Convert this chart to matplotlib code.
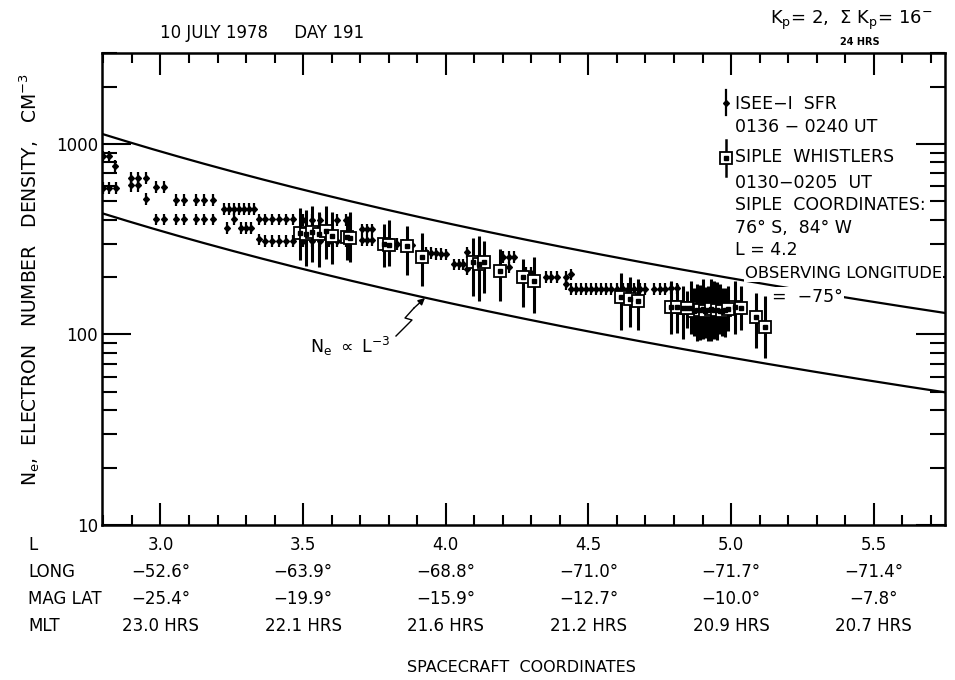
import matplotlib
matplotlib.use("Agg")
import matplotlib.pyplot as plt
import numpy as np
from matplotlib.ticker import FixedLocator, MultipleLocator, LogLocator, NullFormatter
from matplotlib.transforms import blended_transform_factory

plt.rcParams['font.family'] = ['DejaVu Sans']

# ---------------- data ----------------
# ISEE-1 SFR densities (L-shell, Ne in cm^-3)
isee_L = [2.800, 2.820, 2.840, 2.800, 2.820, 2.843,
          2.895, 2.920, 2.948, 2.895, 2.920, 2.950,
          2.985, 3.011,
          3.055, 3.082, 3.125, 3.154, 3.183,
          2.985, 3.011, 3.055, 3.082, 3.125, 3.154, 3.183,
          3.224, 3.241, 3.259, 3.276, 3.294, 3.311, 3.329,
          3.234, 3.259, 3.283, 3.300, 3.318,
          3.346, 3.346,
          3.365, 3.390, 3.415, 3.440, 3.465,
          3.365, 3.390, 3.415, 3.440, 3.465,
          3.500, 3.530, 3.560, 3.620, 3.650,
          3.500, 3.530, 3.560, 3.590, 3.620, 3.650,
          3.706, 3.723, 3.740, 3.706, 3.723, 3.740,
          3.790, 3.810, 3.830, 3.850, 3.880,
          3.930, 3.948, 3.965, 3.983, 4.000,
          4.030, 4.045, 4.060, 4.073, 4.073,
          4.200, 4.220, 4.240, 4.220,
          4.280, 4.300,
          4.350, 4.370, 4.390, 4.420, 4.420,
          4.440, 4.457, 4.475, 4.492, 4.510, 4.527, 4.545, 4.562, 4.580, 4.600,
          4.620, 4.640, 4.660, 4.680, 4.700, 4.730, 4.750, 4.770, 4.790, 4.810,
          4.440]
isee_N = [860, 860, 770, 590, 590, 590,
          665, 665, 665, 605, 605, 514,
          594, 594,
          509, 509, 509, 509, 509,
          403, 403, 403, 403, 403, 403, 403,
          455, 455, 455, 455, 455, 455, 455,
          362, 405, 362, 362, 362,
          403, 316,
          403, 403, 403, 403, 403,
          310, 310, 310, 310, 310,
          400, 400, 400, 400, 400,
          310, 310, 310, 310, 310, 310,
          357, 357, 357, 312, 312, 312,
          300, 300, 298, 296, 294,
          270, 268, 266, 265, 263,
          233, 233, 233, 270, 220,
          255, 255, 255, 225,
          210, 210,
          200, 200, 200, 185, 200,
          173, 173, 173, 173, 173, 173, 173, 173, 173, 173,
          173, 173, 173, 173, 173, 173, 173, 173, 175, 175,
          207]
ISEE_ERR_FRAC = 0.07

# Siple whistler densities: L, Ne, lower and upper error limits
wh_L = [3.490, 3.510, 3.530, 3.555, 3.580, 3.600, 3.655, 3.665,
        3.785, 3.800, 3.865, 3.915, 4.095, 4.115, 4.135, 4.190,
        4.270, 4.310, 4.615, 4.645, 4.675, 4.790, 4.830, 4.860,
        4.880, 4.900, 4.920, 4.940, 4.960, 4.980, 5.015, 5.035,
        5.087, 5.120,
        4.870, 4.890, 4.910, 4.930, 4.950, 4.970, 4.990, 4.810, 4.845]
wh_N = [340, 335, 345, 335, 350, 330, 325, 320,
        300, 295, 290, 255, 240, 235, 240, 215,
        200, 190, 157, 153, 149, 140, 138, 137,
        135, 136, 134, 135, 133, 135, 140, 137,
        124, 109,
        133, 135, 132, 136, 134, 132, 136, 140, 137]
wh_lo = [245, 230, 240, 225, 250, 235, 245, 240,
         225, 230, 205, 180, 160, 150, 165, 150,
         140, 130, 105, 110, 105, 100, 95, 100,
         92, 95, 92, 95, 100, 97, 100, 105,
         85, 75,
         98, 94, 96, 92, 94, 98, 104, 102, 108]
wh_hi = [460, 450, 470, 440, 470, 440, 420, 440,
         380, 400, 370, 340, 320, 330, 310, 280,
         250, 255, 210, 200, 195, 190, 180, 190,
         185, 195, 180, 190, 185, 175, 190, 180,
         165, 160,
         175, 182, 178, 195, 188, 176, 180, 185, 170]

# N ∝ L^-3 envelope constants
upper_const = 24650.0
lower_const = 9450.0

# axis / table labels
L_ticks = [3.0, 3.5, 4.0, 4.5, 5.0, 5.5]
L_labels = ["3.0", "3.5", "4.0", "4.5", "5.0", "5.5"]
long_labels = ["\u221252.6\u00b0", "\u221263.9\u00b0", "\u221268.8\u00b0",
               "\u221271.0\u00b0", "\u221271.7\u00b0", "\u221271.4\u00b0"]
maglat_labels = ["\u221225.4\u00b0", "\u221219.9\u00b0", "\u221215.9\u00b0",
                 "\u221212.7\u00b0", "\u221210.0\u00b0", "\u22127.8\u00b0"]
mlt_labels = ["23.0 HRS", "22.1 HRS", "21.6 HRS", "21.2 HRS", "20.9 HRS", "20.7 HRS"]
y_ticks = [10, 100, 1000]
y_labels = ["10", "100", "1000"]

# ---------------- figure ----------------
W, H = 955, 680
fig = plt.figure(figsize=(W / 100, H / 100), dpi=100)
def fx(px):
    return px / W
def fy(py):
    return 1 - py / H

ax = fig.add_axes([fx(102), fy(525), fx(945) - fx(102), fy(53) - fy(525)])
ax.set_yscale('log')
ax.set_xlim(2.795, 5.75)
ax.set_ylim(10, 3000)

for sp in ax.spines.values():
    sp.set_linewidth(1.8)

# envelopes
Lc = np.linspace(2.795, 5.75, 200)
ax.plot(Lc, upper_const / Lc**3, color='black', lw=1.6, zorder=2)
ax.plot(Lc, lower_const / Lc**3, color='black', lw=1.6, zorder=2)

# ISEE data
iN = np.array(isee_N, dtype=float)
ax.errorbar(isee_L, iN, yerr=[iN * ISEE_ERR_FRAC, iN * ISEE_ERR_FRAC],
            fmt='D', ms=3, color='black', ecolor='black', elinewidth=1.6,
            capsize=0, zorder=3)

# Whistlers
wN = np.array(wh_N, dtype=float)
ax.errorbar(wh_L, wN, yerr=[wN - np.array(wh_lo), np.array(wh_hi) - wN],
            fmt='none', ecolor='black', elinewidth=2.2, capsize=0, zorder=4)
ax.plot(wh_L, wN, 's', ms=8.5, mfc='white', mec='black', mew=1.3, zorder=5)
ax.plot(wh_L, wN, 's', ms=3, mfc='black', mec='black', zorder=6)

# ticks
ax.xaxis.set_major_locator(FixedLocator(L_ticks))
ax.xaxis.set_minor_locator(MultipleLocator(0.1))
ax.xaxis.set_tick_params(which='major', direction='in', length=16, width=1.5,
                         top=True, bottom=True, labelbottom=False)
ax.xaxis.set_tick_params(which='minor', direction='in', length=7, width=1.5,
                         top=True, bottom=True)
ax.set_yticks(y_ticks)
ax.set_yticklabels(y_labels)
ax.yaxis.set_minor_locator(LogLocator(base=10, subs=range(2, 10)))
ax.yaxis.set_minor_formatter(NullFormatter())
ax.yaxis.set_tick_params(which='major', direction='in', length=21, width=1.5,
                         left=True, right=True, labelsize=12, pad=3)
ax.yaxis.set_tick_params(which='minor', direction='in', length=11, width=1.5,
                         left=True, right=True)

# y label
fig.text(fx(30), fy(280), r'N$_\mathregular{e}$,  ELECTRON   NUMBER   DENSITY,   CM$^{\mathregular{-3}}$',
         rotation=90, ha='center', va='center', fontsize=13.5)

# header
fig.text(fx(160), fy(33), "10 JULY 1978     DAY 191", ha='left', va='center', fontsize=12)
fig.text(fx(770), fy(20), r'K$_\mathregular{p}$= 2,  $\Sigma$ K$_\mathregular{p}$= 16$^{\mathregular{-}}$',
         ha='left', va='center', fontsize=13)
fig.text(fx(860), fy(42), "24 HRS", ha='center', va='center', fontsize=7, fontweight='bold')

# bottom table
row_labels = ["L", "LONG", "MAG LAT", "MLT"]
row_y = [545, 572, 599, 626]
row_vals = [L_labels, long_labels, maglat_labels, mlt_labels]
tr = blended_transform_factory(ax.transData, fig.transFigure)
for lab, yy, vals in zip(row_labels, row_y, row_vals):
    fig.text(fx(28), fy(yy), lab, ha='left', va='center', fontsize=12)
    for Lt, v in zip(L_ticks, vals):
        ax.text(Lt, fy(yy), v, ha='center', va='center', fontsize=12,
                transform=tr, clip_on=False)
fig.text(fx(521), fy(668), "SPACECRAFT  COORDINATES", ha='center', va='center', fontsize=11.5)

# legend / info text
legend_lines = [(104, "ISEE\u2212I  SFR"), (127, "0136 \u2212 0240 UT"),
                (157, "SIPLE  WHISTLERS"), (183, "0130\u22120205  UT"),
                (205, "SIPLE  COORDINATES:"), (228, "76\u00b0 S,  84\u00b0 W"),
                (250, "L = 4.2")]
for yy, t in legend_lines:
    fig.text(fx(735), fy(yy), t, ha='left', va='center', fontsize=12.5)
fig.text(fx(745), fy(273), "OBSERVING LONGITUDE", ha='left', va='center', fontsize=11.8,
         bbox=dict(facecolor='white', edgecolor='none', pad=1), zorder=10)
fig.text(fx(772), fy(297), "=  \u221275\u00b0", ha='left', va='center', fontsize=12.5,
         bbox=dict(facecolor='white', edgecolor='none', pad=1), zorder=10)

# legend symbols
fig.lines.append(plt.Line2D([fx(726), fx(726)], [fy(90), fy(115)], color='black', lw=1.6,
                            transform=fig.transFigure))
fig.lines.append(plt.Line2D([fx(726)], [fy(103)], marker='D', ms=3, color='black',
                            transform=fig.transFigure))
fig.lines.append(plt.Line2D([fx(726), fx(726)], [fy(140), fy(176)], color='black', lw=1.8,
                            transform=fig.transFigure))
fig.lines.append(plt.Line2D([fx(726)], [fy(158)], marker='s', ms=8.5, mfc='white', mec='black',
                            mew=1.3, color='black', transform=fig.transFigure))
fig.lines.append(plt.Line2D([fx(726)], [fy(158)], marker='s', ms=3, color='black',
                            transform=fig.transFigure))

# N_e ∝ L^-3 annotation with zig-zag pointer
fig.text(fx(310), fy(346), r'N$_\mathregular{e}$ $\propto$ L$^{\mathregular{-3}}$',
         ha='left', va='center', fontsize=12.5)
fig.lines.append(plt.Line2D([fx(396), fx(412), fx(405), fx(414)],
                            [fy(336), fy(320), fy(318), fy(308)],
                            color='black', lw=1.0, transform=fig.transFigure))
ax.annotate('', xy=(fx(425), fy(298)), xytext=(fx(414), fy(308)),
            xycoords='figure fraction', textcoords='figure fraction',
            arrowprops=dict(arrowstyle='-|>', color='black', lw=1.0,
                            shrinkA=0, shrinkB=0, mutation_scale=10))

fig.savefig("out.png", dpi=100)
